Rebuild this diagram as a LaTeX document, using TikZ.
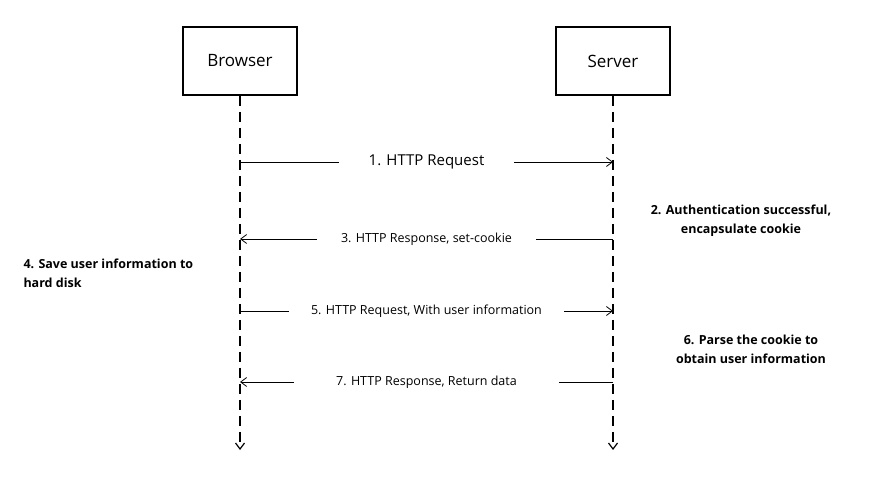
\documentclass[tikz,border=0pt]{standalone}
\usepackage{fontspec}
\setmainfont{Open Sans}
\usetikzlibrary{arrows.meta}
\begin{document}
\begin{tikzpicture}[x=1pt,y=-1pt,
  box/.style={draw,line width=1.8pt,minimum width=114pt,minimum height=68pt,font=\fontsize{17}{20}\selectfont},
  life/.style={line width=1.2pt,dash pattern=on 10pt off 6pt,-{Straight Barb[length=6pt,width=9pt]}},
  msg/.style={line width=0.8pt,-{Straight Barb[length=6pt,width=9pt]}},
  lab/.style={fill=white,font=\fontsize{12.5}{15}\selectfont,inner xsep=12pt},
  note/.style={font=\bfseries\fontsize{12.5}{19}\selectfont,align=left}]
\useasboundingbox (0,0) rectangle (870,478);
\node[box] (b) at (240,61) {Browser};
\node[box] (s) at (613,61) {Server};
\coordinate (be) at (240,450);
\coordinate (se) at (613,450);
\draw[life] (b.south) -- (be);
\draw[life] (s.south) -- (se);
\coordinate (b1) at (240,162); \coordinate (s1) at (613,162);
\coordinate (b3) at (240,239); \coordinate (s3) at (613,239);
\coordinate (b5) at (240,311); \coordinate (s5) at (613,311);
\coordinate (b7) at (240,382); \coordinate (s7) at (613,382);
\draw[msg] (b1) -- (s1) node[lab,pos=0.5,inner xsep=30pt,font=\fontsize{15}{18}\selectfont] (m1) {1. HTTP Request};
\draw[msg] (s3) -- (b3) node[lab,pos=0.5,inner xsep=24pt] (m3) {3. HTTP Response, set-cookie};
\draw[msg] (b5) -- (s5) node[lab,pos=0.5,inner xsep=22pt] (m5) {5. HTTP Request, With user information};
\draw[msg] (s7) -- (b7) node[lab,pos=0.5,inner xsep=42pt] (m7) {7. HTTP Response, Return data};
\node[note,align=center] (n2) at (741,221) {2. Authentication successful,\\encapsulate cookie};
\node[note,anchor=west] (n4) at (20,273) {4. Save user information to\\hard disk};
\node[note,align=center] (n6) at (751,349) {6. Parse the cookie to\\obtain user information};
\end{tikzpicture}
\end{document}
